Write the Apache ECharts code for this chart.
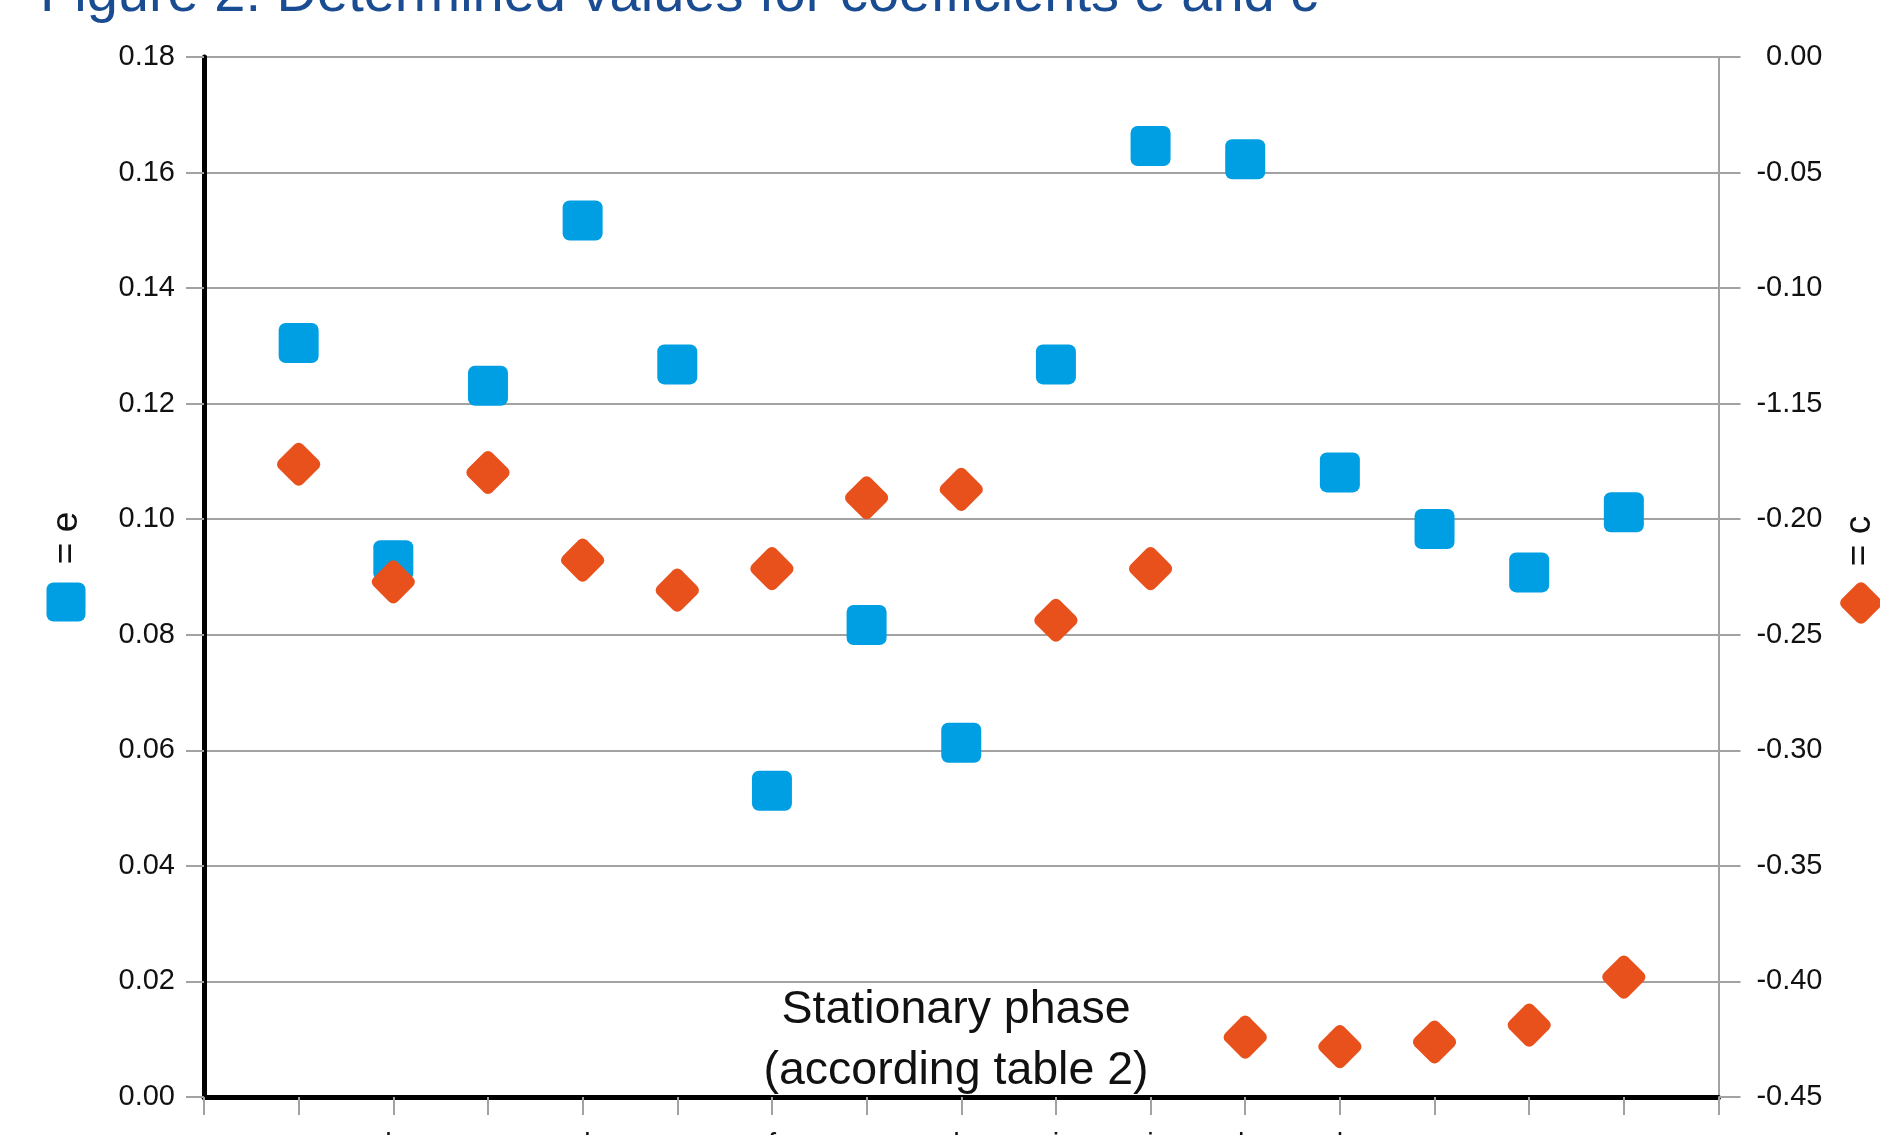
<!DOCTYPE html>
<html>
<head>
<meta charset="utf-8">
<style>
  html, body { margin: 0; padding: 0; background: #ffffff; overflow: hidden; }
  #chart { width: 1880px; height: 1135px; }
</style>
<script src="https://cdn.jsdelivr.net/npm/echarts@6/dist/echarts.min.js"></script>
</head>
<body>
<div id="chart"></div>
<script>
// Sample positions along the x axis (empty slots at both ends)
const categories = ['', 'a', 'b', 'c', 'd', 'e', 'f', 'g', 'h', 'i', 'j', 'k', 'l', 'm', 'n', 'o', ''];
const samples = categories.slice(1, 16);

// Coefficient e (left axis)
const valuesE = [0.1305, 0.0929, 0.1231, 0.1517, 0.1268, 0.0530, 0.0817, 0.0613,
                 0.1268, 0.1646, 0.1623, 0.1081, 0.0983, 0.0908, 0.1012];
// Coefficient c (right axis)
const valuesC = [-0.1762, -0.2271, -0.1798, -0.2177, -0.2307, -0.2214, -0.1907, -0.1871,
                 -0.2437, -0.2214, -0.4241, -0.4282, -0.4262, -0.4189, -0.3981];

// Tick labels, bottom to top
const leftTickLabels = ['0.00', '0.02', '0.04', '0.06', '0.08', '0.10', '0.12', '0.14', '0.16', '0.18'];
const rightTickLabels = ['-0.45', '-0.40', '-0.35', '-0.30', '-0.25', '-0.20', '-1.15', '-0.10', '-0.05', '0.00'];

const titleText = 'Figure 2: Determined values for coefficients e and c';
const noteText = 'Stationary phase\n(according table 2)';

const BLUE = '#009fe3';
const ORANGE = '#e8501c';
const GRID_GREY = '#a2a2a2';
const FONT = '"Liberation Sans", Arial, sans-serif';

// Rounded square marker (corner radius ~17% of side)
const roundSquare = 'path://M3.5,0H16.5A3.5,3.5 0 0 1 20,3.5V16.5A3.5,3.5 0 0 1 16.5,20H3.5A3.5,3.5 0 0 1 0,16.5V3.5A3.5,3.5 0 0 1 3.5,0Z';

const chart = echarts.init(document.getElementById('chart'), null, { renderer: 'canvas' });

const option = {
  backgroundColor: '#ffffff',
  animation: false,
  grid: {
    left: 204, right: 161.5, top: 57, bottom: 38,
    containLabel: false, outerBoundsMode: 'none'
  },
  xAxis: {
    type: 'category',
    data: categories,
    boundaryGap: false,
    axisLine: { onZero: false, lineStyle: { color: '#000000', width: 5 } },
    axisTick: { show: true, interval: 0, length: 18, lineStyle: { color: GRID_GREY, width: 2 } },
    axisLabel: { interval: 0, margin: 34, fontSize: 29, color: '#111111', fontFamily: FONT },
    splitLine: { show: false }
  },
  yAxis: [
    {
      type: 'value',
      position: 'left',
      min: 0, max: 0.18, interval: 0.02,
      axisLine: { show: true, lineStyle: { color: '#000000', width: 5 } },
      axisTick: { show: true, length: 18, lineStyle: { color: GRID_GREY, width: 2 } },
      axisLabel: {
        margin: 29, fontSize: 29, color: '#111111', fontFamily: FONT,
        formatter: (v, i) => leftTickLabels[i]
      },
      splitLine: { show: true, lineStyle: { color: GRID_GREY, width: 2 } }
    },
    {
      type: 'value',
      position: 'right',
      min: -0.45, max: 0, interval: 0.05,
      axisLine: { show: true, lineStyle: { color: GRID_GREY, width: 2 } },
      axisTick: { show: true, length: 22, lineStyle: { color: GRID_GREY, width: 2 } },
      axisLabel: {
        margin: 104, align: 'right', fontSize: 29, color: '#111111', fontFamily: FONT,
        formatter: (v, i) => rightTickLabels[i]
      },
      splitLine: { show: false }
    }
  ],
  series: [
    {
      name: 'e',
      type: 'scatter',
      yAxisIndex: 0,
      symbol: roundSquare,
      symbolSize: 40,
      itemStyle: { color: BLUE, opacity: 1 },
      data: samples.map((s, i) => [s, valuesE[i]]),
      z: 2
    },
    {
      name: 'c',
      type: 'scatter',
      yAxisIndex: 1,
      symbol: roundSquare,
      symbolSize: 34,
      symbolRotate: 45,
      itemStyle: { color: ORANGE, opacity: 1 },
      data: samples.map((s, i) => [s, valuesC[i]]),
      z: 3
    }
  ],
  graphic: [
    {
      type: 'text', x: 40, y: -4,
      style: {
        text: titleText, fill: '#1a4c92', font: '56px ' + FONT,
        align: 'left', verticalAlign: 'middle', textAlign: 'left', textVerticalAlign: 'middle'
      }
    },
    {
      type: 'text', x: 956, y: 1041,
      style: {
        text: noteText, fill: '#111111', font: '46.5px ' + FONT, lineHeight: 61,
        align: 'center', verticalAlign: 'middle', textAlign: 'center', textVerticalAlign: 'middle'
      }
    },
    // left key: square marker with "= e"
    {
      type: 'rect', x: 66, y: 602,
      shape: { x: -19.5, y: -19.5, width: 39, height: 39, r: 7 },
      style: { fill: BLUE }
    },
    {
      type: 'text', x: 67, y: 538, rotation: Math.PI / 2,
      style: {
        text: '= e', fill: '#111111', font: '37px ' + FONT,
        align: 'center', verticalAlign: 'middle', textAlign: 'center', textVerticalAlign: 'middle'
      }
    },
    // right key: diamond marker with "= c"
    {
      type: 'rect', x: 1861, y: 603, rotation: Math.PI / 4,
      shape: { x: -16.5, y: -16.5, width: 33, height: 33, r: 6 },
      style: { fill: ORANGE }
    },
    {
      type: 'text', x: 1860, y: 541, rotation: Math.PI / 2,
      style: {
        text: '= c', fill: '#111111', font: '37px ' + FONT,
        align: 'center', verticalAlign: 'middle', textAlign: 'center', textVerticalAlign: 'middle'
      }
    }
  ]
};

chart.setOption(option);
</script>
</body>
</html>
